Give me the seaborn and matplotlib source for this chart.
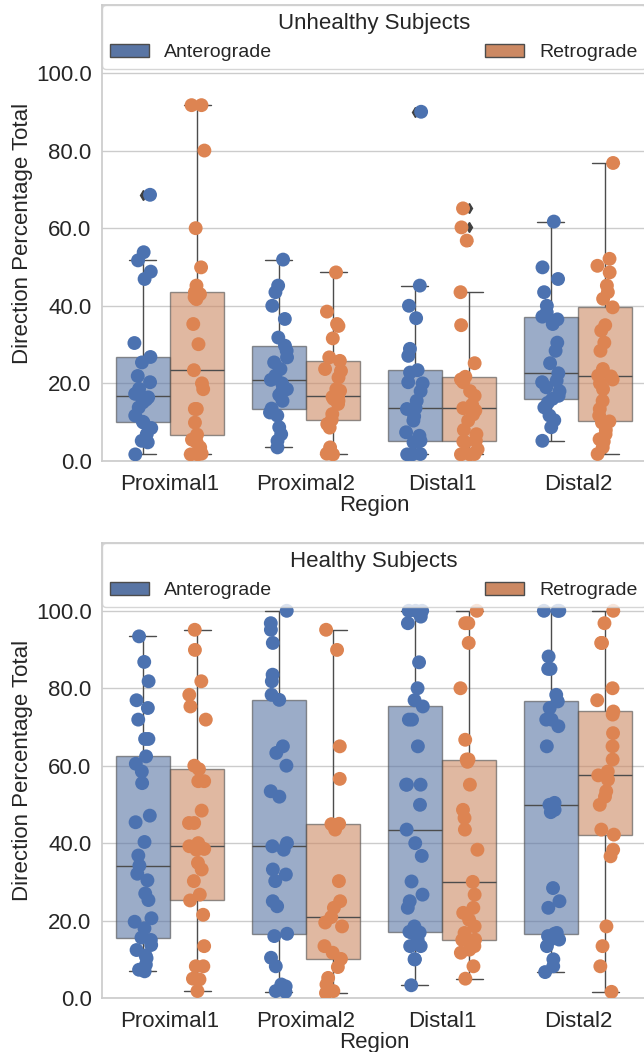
import numpy as np
import pandas as pd
import matplotlib
matplotlib.use("Agg")
import matplotlib.pyplot as plt
import seaborn as sns
from matplotlib.ticker import FormatStrFormatter

regions = ["Proximal1", "Proximal2", "Distal1", "Distal2"]
directions = ["Anterograde", "Retrograde"]
y_ticks = [0, 20, 40, 60, 80, 100]

# ---- Unhealthy subjects: direction percentages per region ----
unhealthy_prox1_ante = [1.7, 4.8, 5.2, 6.9, 8.5, 9.9, 10.1, 11.7, 13.8, 15.1, 15.8, 16.4, 16.8,
                        17.3, 18.6, 20.3, 21.9, 25.4, 26.8, 30.4, 46.9, 48.8, 51.7, 53.8, 68.6]
unhealthy_prox1_retro = [1.7, 1.7, 1.9, 3.5, 4.8, 5.5, 6.8, 9.9, 13.4, 13.4, 18.5, 20.0, 23.4,
                         30.1, 35.3, 41.7, 42.2, 43.0, 43.5, 45.2, 49.9, 60.0, 80.0, 91.7, 91.7]
unhealthy_prox2_ante = [3.5, 5.2, 6.9, 8.7, 11.7, 12.5, 13.5, 15.5, 17.0, 18.1, 18.5, 20.0, 20.9,
                        22.0, 23.7, 25.4, 26.7, 28.4, 29.7, 31.8, 36.6, 40.0, 43.5, 45.2, 51.9]
unhealthy_prox2_retro = [1.7, 1.9, 2.2, 3.5, 8.6, 9.5, 10.6, 12.1, 14.7, 15.5, 16.0, 16.5, 16.8,
                         18.1, 18.5, 21.5, 23.2, 23.7, 25.8, 26.7, 31.6, 34.8, 35.3, 38.5, 48.6]
unhealthy_dist1_ante = [1.7, 1.7, 1.8, 4.8, 5.0, 5.1, 5.2, 6.5, 7.4, 10.4, 11.5, 13.4, 13.6,
                        15.5, 18.0, 20.0, 20.3, 22.8, 23.4, 27.1, 28.9, 36.8, 40.0, 45.2, 90.0]
unhealthy_dist1_retro = [1.7, 1.7, 1.8, 3.0, 4.8, 5.0, 5.2, 6.9, 8.0, 10.4, 12.0, 13.0, 13.6,
                         14.5, 16.8, 18.0, 20.3, 21.0, 21.7, 25.2, 35.0, 43.5, 56.8, 60.2, 65.1]
unhealthy_dist2_ante = [5.2, 8.7, 10.5, 11.7, 13.8, 15.0, 16.0, 16.8, 18.0, 19.0, 20.3, 20.7, 22.6,
                        25.2, 28.4, 30.5, 35.3, 36.5, 37.2, 38.3, 40.0, 43.5, 46.9, 49.9, 61.7]
unhealthy_dist2_retro = [1.8, 3.5, 5.0, 5.6, 6.9, 8.0, 9.9, 10.2, 11.7, 13.4, 15.5, 18.5, 20.0,
                         21.0, 21.8, 22.0, 23.7, 28.4, 30.5, 33.6, 35.0, 39.6, 41.8, 43.5, 45.2,
                         48.6, 50.3, 52.1, 76.8]

# ---- Healthy subjects: direction percentages per region ----
healthy_prox1_ante = [6.9, 7.3, 8.6, 10.3, 11.0, 12.4, 13.7, 15.0, 15.6, 18.0, 19.7, 20.6, 25.3,
                      27.0, 30.4, 32.1, 34.2, 36.8, 40.3, 45.4, 47.1, 55.5, 58.5, 60.5, 62.4,
                      66.9, 66.9, 71.9, 74.9, 76.9, 81.8, 86.8, 93.4]
healthy_prox1_retro = [1.8, 4.8, 5.0, 8.2, 8.2, 13.4, 21.5, 25.2, 26.7, 30.2, 33.2, 34.9, 38.3,
                       38.5, 39.2, 40.0, 45.2, 45.2, 48.4, 56.0, 56.0, 59.1, 60.0, 71.9, 75.3,
                       78.3, 81.8, 89.9, 95.1]
healthy_prox2_ante = [1.6, 1.8, 3.0, 3.5, 8.2, 10.4, 16.0, 16.6, 23.7, 25.0, 30.2, 31.9, 33.2,
                      38.3, 39.2, 40.0, 52.0, 53.4, 60.0, 63.3, 65.0, 77.0, 78.3, 81.8, 83.5,
                      91.7, 95.1, 96.8, 100.0]
healthy_prox2_retro = [1.3, 1.8, 3.5, 5.2, 8.0, 10.1, 11.7, 13.4, 18.5, 19.5, 20.9, 23.3, 25.0,
                       30.2, 43.5, 44.9, 45.0, 56.6, 65.0, 89.9, 95.1]
healthy_dist1_ante = [3.3, 10.0, 10.0, 13.4, 13.4, 15.0, 16.8, 16.9, 17.1, 18.5, 23.3, 25.0, 26.7,
                      30.1, 36.7, 40.0, 43.5, 49.9, 55.1, 55.1, 55.1, 65.0, 71.9, 71.9, 75.3,
                      76.9, 80.0, 86.7, 96.8, 98.5, 100.0, 100.0, 100.0]
healthy_dist1_retro = [5.0, 8.2, 11.7, 12.5, 13.4, 14.5, 15.0, 15.1, 16.8, 18.5, 20.2, 22.0, 23.3,
                       26.7, 30.0, 38.3, 43.5, 46.5, 48.6, 55.1, 61.0, 61.6, 61.6, 66.7, 80.0,
                       91.7, 96.8, 96.8, 100.0]
healthy_dist2_ante = [6.7, 8.2, 10.0, 13.4, 15.1, 15.1, 16.0, 16.6, 16.8, 23.3, 25.0, 28.4, 48.0,
                      48.6, 49.9, 50.4, 65.0, 70.2, 71.9, 71.9, 74.9, 76.6, 78.3, 85.0, 85.0,
                      88.2, 100.0, 100.0, 100.0]
healthy_dist2_retro = [1.6, 8.2, 13.4, 18.5, 36.6, 38.3, 42.2, 43.5, 49.9, 52.0, 53.4, 56.4, 57.5,
                       58.5, 61.6, 65.0, 68.4, 73.2, 74.0, 76.9, 80.0, 91.7, 91.7, 96.8, 100.0]

unhealthy_groups = {
    ("Proximal1", "Anterograde"): unhealthy_prox1_ante,
    ("Proximal1", "Retrograde"): unhealthy_prox1_retro,
    ("Proximal2", "Anterograde"): unhealthy_prox2_ante,
    ("Proximal2", "Retrograde"): unhealthy_prox2_retro,
    ("Distal1", "Anterograde"): unhealthy_dist1_ante,
    ("Distal1", "Retrograde"): unhealthy_dist1_retro,
    ("Distal2", "Anterograde"): unhealthy_dist2_ante,
    ("Distal2", "Retrograde"): unhealthy_dist2_retro,
}
healthy_groups = {
    ("Proximal1", "Anterograde"): healthy_prox1_ante,
    ("Proximal1", "Retrograde"): healthy_prox1_retro,
    ("Proximal2", "Anterograde"): healthy_prox2_ante,
    ("Proximal2", "Retrograde"): healthy_prox2_retro,
    ("Distal1", "Anterograde"): healthy_dist1_ante,
    ("Distal1", "Retrograde"): healthy_dist1_retro,
    ("Distal2", "Anterograde"): healthy_dist2_ante,
    ("Distal2", "Retrograde"): healthy_dist2_retro,
}


def to_long(groups):
    rows = []
    for (region, direction), values in groups.items():
        for v in values:
            rows.append({"Region": region, "Direction": direction, "Value": v})
    return pd.DataFrame(rows)


sns.set_theme(style="whitegrid", palette="deep")
plt.rcParams["font.family"] = ["Liberation Sans", "DejaVu Sans"]
np.random.seed(7)

fig = plt.figure(figsize=(6.44, 10.52), dpi=100)
ax_top = fig.add_axes([0.1584, 0.5618, 0.8447, 0.4334])
ax_bot = fig.add_axes([0.1584, 0.0513, 0.8447, 0.4325])

panels = [
    (ax_top, to_long(unhealthy_groups), "Unhealthy Subjects"),
    (ax_bot, to_long(healthy_groups), "Healthy Subjects"),
]

flier_style = {"marker": "d", "markerfacecolor": "0.25", "markeredgecolor": "0.25",
               "markersize": 5}

for ax, df, title in panels:
    sns.boxplot(data=df, x="Region", y="Value", hue="Direction",
                order=regions, hue_order=directions, width=0.8,
                palette="deep", flierprops=flier_style, ax=ax)
    leg = ax.get_legend()
    handles = list(leg.legend_handles)
    labels = [t.get_text() for t in leg.get_texts()]
    for patch in ax.patches:
        patch.set_alpha(0.6)
    sns.stripplot(data=df, x="Region", y="Value", hue="Direction",
                  order=regions, hue_order=directions, dodge=True,
                  palette="deep", jitter=0.13, size=10, linewidth=0,
                  legend=False, ax=ax)
    ax.legend(handles, labels, title=title, ncol=2, mode="expand",
              loc="upper left", bbox_to_anchor=(0, 0, 1, 1), borderaxespad=0,
              fontsize=14, title_fontsize=16)
    ax.set_ylim(0, 117.5)
    ax.set_yticks(y_ticks)
    ax.yaxis.set_major_formatter(FormatStrFormatter("%.1f"))
    ax.tick_params(labelsize=16)
    ax.tick_params(axis="y", pad=1.5)
    ax.set_xlabel("Region", fontsize=16, labelpad=0)
    ax.set_ylabel("Direction Percentage Total", fontsize=16, labelpad=2)

fig.savefig("out.png", dpi=100)
